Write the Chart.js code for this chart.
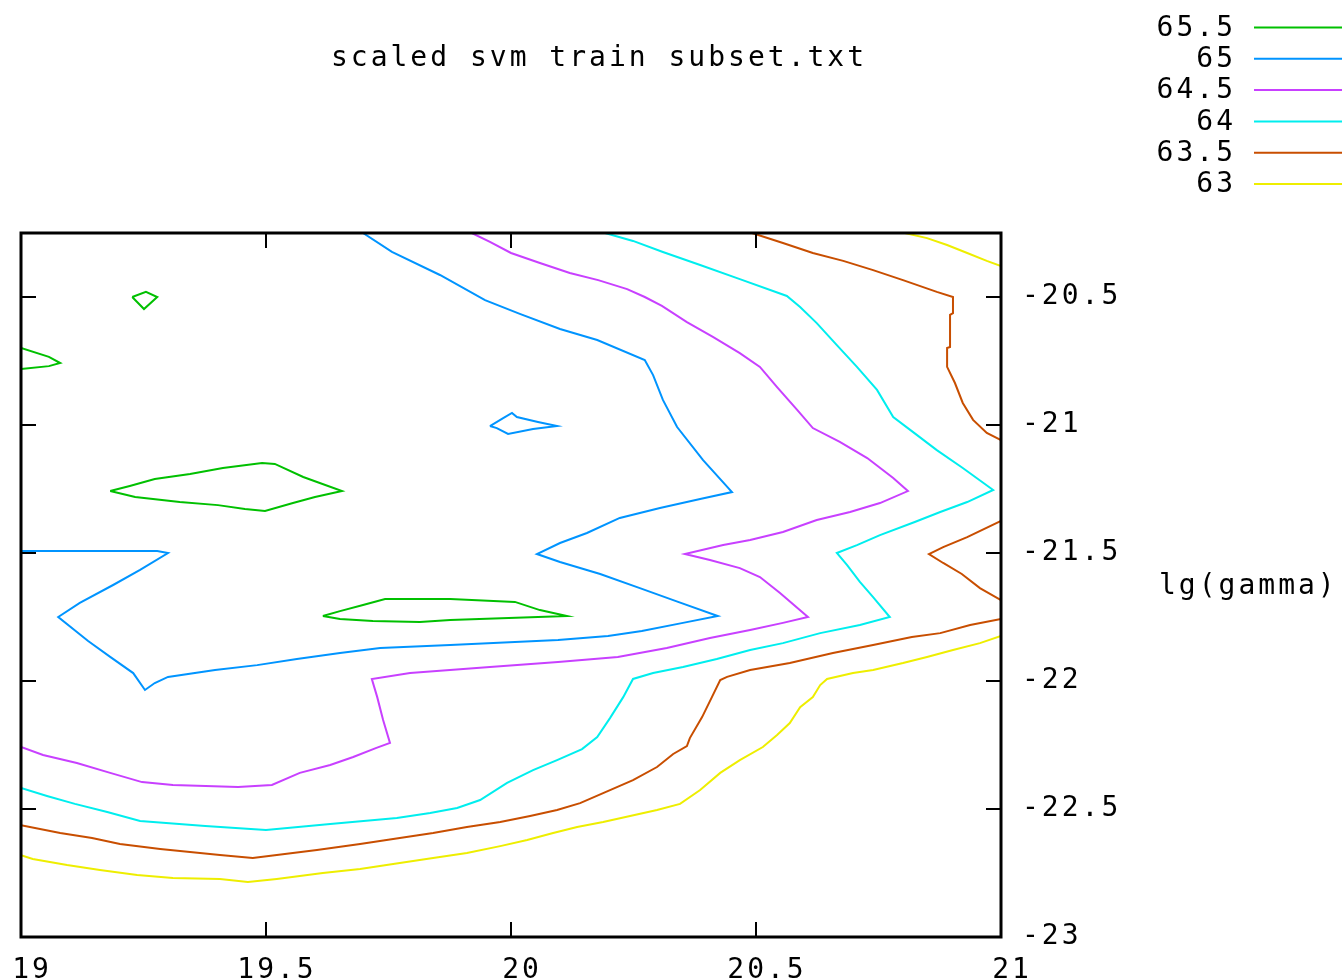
<!DOCTYPE html>
<html>
<head>
<meta charset="utf-8">
<script src="https://cdn.jsdelivr.net/npm/chart.js@4.4.1/dist/chart.umd.min.js"></script>
<style>
  html, body { margin: 0; background: #fff; }
  canvas { display: block; }
</style>
</head>
<body>
<canvas id="contour" width="1342" height="980"></canvas>
<script>
// Contour levels and their line colours
const levels = ['65.5', '65', '64.5', '64', '63.5', '63'];
const levelColors = ['#00c000', '#0094ff', '#c840ff', '#00eeee', '#c84e00', '#eeee00'];

// Tick values
const xTicks = [19, 19.5, 20, 20.5, 21];
const yTicks = [-23, -22.5, -22, -21.5, -21, -20.5];

const titleText = 'scaled svm train subset.txt';
const yLabelText = 'lg(gamma)';

// Contour pieces, [x, y] pairs
const c655a = [[19.227,-20.5],[19.255,-20.48],[19.278,-20.5],[19.251,-20.547],[19.227,-20.5]];
const c655b = [[19,-20.699],[19.057,-20.734],[19.08,-20.758],[19.057,-20.77],[19,-20.781]];
const c655c = [[19.182,-21.258],[19.222,-21.238],[19.273,-21.211],[19.345,-21.191],[19.412,-21.168],[19.492,-21.148],
  [19.518,-21.152],[19.576,-21.203],[19.655,-21.258],[19.6,-21.281],[19.555,-21.305],[19.498,-21.336],[19.457,-21.328],
  [19.402,-21.313],[19.324,-21.301],[19.233,-21.281],[19.182,-21.258]];
const c655d = [[19.616,-21.746],[19.651,-21.727],[19.698,-21.703],[19.743,-21.68],[19.876,-21.68],[20.008,-21.691],
  [20.059,-21.723],[20.114,-21.746],[20.055,-21.75],[19.876,-21.762],[19.814,-21.77],[19.718,-21.766],[19.651,-21.758],
  [19.616,-21.746]];

const c65a = [[19.698,-20.25],[19.757,-20.324],[19.855,-20.414],[19.947,-20.512],[20.018,-20.566],[20.1,-20.625],
  [20.176,-20.668],[20.273,-20.746],[20.29,-20.805],[20.31,-20.902],[20.339,-21.008],[20.392,-21.137],[20.451,-21.262],
  [20.386,-21.289],[20.304,-21.324],[20.222,-21.363],[20.155,-21.422],[20.1,-21.461],[20.053,-21.504],[20.1,-21.535],
  [20.182,-21.582],[20.263,-21.637],[20.341,-21.691],[20.422,-21.746],[20.351,-21.773],[20.267,-21.805],[20.198,-21.824],
  [20.096,-21.84],[19.876,-21.859],[19.733,-21.871],[19.651,-21.891],[19.563,-21.914],[19.482,-21.938],[19.396,-21.957],
  [19.3,-21.984],[19.273,-22.008],[19.253,-22.035],[19.229,-21.969],[19.182,-21.906],[19.137,-21.844],[19.076,-21.75],
  [19.12,-21.695],[19.188,-21.625],[19.243,-21.566],[19.3,-21.5],[19.278,-21.492],[19,-21.492]];
const c65b = [[19.957,-21.004],[19.984,-20.973],[20.002,-20.953],[20.012,-20.969],[20.055,-20.988],[20.094,-21.004],
  [20.045,-21.016],[19.994,-21.035],[19.971,-21.012],[19.957,-21.004]];

const c645a = [[19.92,-20.25],[19.957,-20.285],[20.0,-20.328],[20.059,-20.367],[20.12,-20.406],[20.178,-20.434],
  [20.237,-20.469],[20.273,-20.5],[20.308,-20.535],[20.359,-20.598],[20.412,-20.656],[20.467,-20.719],[20.508,-20.773],
  [20.543,-20.852],[20.584,-20.941],[20.616,-21.012],[20.671,-21.066],[20.727,-21.129],[20.78,-21.207],[20.81,-21.258],
  [20.753,-21.305],[20.692,-21.34],[20.624,-21.371],[20.555,-21.418],[20.488,-21.449],[20.433,-21.469],[20.355,-21.504],
  [20.406,-21.527],[20.467,-21.559],[20.508,-21.594],[20.549,-21.656],[20.606,-21.75],[20.555,-21.773],[20.488,-21.801],
  [20.406,-21.832],[20.318,-21.871],[20.218,-21.906],[20.096,-21.926],[19.957,-21.945],[19.794,-21.969],[19.716,-21.992],
  [19.727,-22.063],[19.739,-22.152],[19.753,-22.242],[19.724,-22.262],[19.678,-22.297],[19.631,-22.328],[19.569,-22.359],
  [19.512,-22.406],[19.443,-22.414],[19.31,-22.406],[19.247,-22.395],[19.182,-22.359],[19.114,-22.32],[19.045,-22.289],
  [19,-22.258]];

const c64a = [[20.192,-20.25],[20.249,-20.281],[20.31,-20.324],[20.386,-20.375],[20.467,-20.43],[20.563,-20.496],
  [20.59,-20.539],[20.624,-20.602],[20.665,-20.688],[20.706,-20.773],[20.747,-20.863],[20.78,-20.969],[20.82,-21.027],
  [20.869,-21.098],[20.922,-21.168],[20.984,-21.254],[20.931,-21.301],[20.876,-21.34],[20.824,-21.379],[20.753,-21.43],
  [20.706,-21.469],[20.665,-21.5],[20.686,-21.547],[20.712,-21.613],[20.739,-21.672],[20.773,-21.75],[20.712,-21.781],
  [20.631,-21.813],[20.555,-21.852],[20.488,-21.879],[20.42,-21.914],[20.351,-21.945],[20.29,-21.969],[20.249,-21.992],
  [20.229,-22.063],[20.202,-22.145],[20.176,-22.219],[20.145,-22.266],[20.094,-22.309],[20.045,-22.348],[19.992,-22.398],
  [19.937,-22.465],[19.89,-22.496],[19.835,-22.516],[19.767,-22.535],[19.631,-22.559],[19.5,-22.582],[19.376,-22.566],
  [19.243,-22.547],[19.176,-22.512],[19.11,-22.48],[19.053,-22.449],[19,-22.418]];

const c635a = [[20.492,-20.25],[20.555,-20.289],[20.616,-20.328],[20.678,-20.359],[20.739,-20.395],[20.8,-20.434],
  [20.869,-20.48],[20.902,-20.5],[20.902,-20.563],[20.896,-20.57],[20.896,-20.695],[20.89,-20.699],[20.89,-20.773],
  [20.906,-20.836],[20.922,-20.914],[20.943,-20.98],[20.971,-21.031],[21,-21.059]];
const c635b = [[21,-21.375],[20.931,-21.438],[20.882,-21.477],[20.853,-21.504],[20.882,-21.539],[20.92,-21.582],
  [20.957,-21.637],[21,-21.684]];
const c635c = [[21,-21.758],[20.937,-21.781],[20.876,-21.813],[20.818,-21.828],[20.739,-21.859],[20.657,-21.891],
  [20.569,-21.93],[20.488,-21.957],[20.441,-21.984],[20.427,-21.996],[20.41,-22.063],[20.39,-22.141],[20.365,-22.223],
  [20.359,-22.254],[20.331,-22.285],[20.298,-22.336],[20.249,-22.387],[20.188,-22.438],[20.141,-22.477],[20.094,-22.504],
  [20.039,-22.527],[19.978,-22.551],[19.91,-22.57],[19.841,-22.594],[19.773,-22.613],[19.692,-22.637],[19.604,-22.66],
  [19.522,-22.68],[19.473,-22.691],[19.406,-22.68],[19.284,-22.656],[19.202,-22.637],[19.145,-22.613],[19.08,-22.594],
  [19,-22.563]];

const c63a = [[20.804,-20.25],[20.849,-20.27],[20.89,-20.297],[20.931,-20.328],[20.971,-20.359],[21,-20.379]];
const c63b = [[21,-21.824],[20.957,-21.852],[20.902,-21.879],[20.849,-21.906],[20.8,-21.93],[20.739,-21.957],
  [20.698,-21.969],[20.645,-21.992],[20.631,-22.016],[20.616,-22.063],[20.59,-22.102],[20.569,-22.164],[20.543,-22.211],
  [20.514,-22.258],[20.467,-22.309],[20.427,-22.359],[20.386,-22.426],[20.345,-22.48],[20.298,-22.504],[20.243,-22.527],
  [20.188,-22.551],[20.135,-22.57],[20.086,-22.594],[20.033,-22.621],[19.978,-22.645],[19.91,-22.672],[19.841,-22.691],
  [19.773,-22.711],[19.692,-22.734],[19.616,-22.75],[19.522,-22.773],[19.463,-22.785],[19.406,-22.773],[19.31,-22.77],
  [19.237,-22.758],[19.161,-22.738],[19.094,-22.719],[19.024,-22.695],[19,-22.68]];

// which level each piece belongs to
const pieces = [
  [0, c655a], [0, c655b], [0, c655c], [0, c655d],
  [1, c65a], [1, c65b],
  [2, c645a],
  [3, c64a],
  [4, c635a], [4, c635b], [4, c635c],
  [5, c63a], [5, c63b]
];

const FONT = '"DejaVu Sans Mono", "Liberation Mono", monospace';

// gnuplot style frame: border, inward ticks, title, key and y label
const gnuplotFrame = {
  id: 'gnuplotFrame',
  beforeLayout(chart) { chart.ctx.letterSpacing = '3px'; },
  beforeDraw(chart) { chart.ctx.letterSpacing = '3px'; },
  afterDraw(chart) {
    const { ctx, chartArea: a, scales } = chart;
    const xs = scales.x, ys = scales.y;
    ctx.save();
    ctx.strokeStyle = '#000';
    ctx.lineWidth = 3;
    ctx.strokeRect(a.left, a.top, a.right - a.left, a.bottom - a.top);

    ctx.lineWidth = 2;
    ctx.beginPath();
    xs.ticks.forEach(t => {
      const px = xs.getPixelForValue(t.value);
      if (px < a.left + 2 || px > a.right - 2) return;
      ctx.moveTo(px, a.top); ctx.lineTo(px, a.top + 15);
      ctx.moveTo(px, a.bottom); ctx.lineTo(px, a.bottom - 15);
    });
    ys.ticks.forEach(t => {
      const py = ys.getPixelForValue(t.value);
      if (py < a.top + 2 || py > a.bottom - 2) return;
      ctx.moveTo(a.left, py); ctx.lineTo(a.left + 15, py);
      ctx.moveTo(a.right, py); ctx.lineTo(a.right - 15, py);
    });
    ctx.stroke();

    ctx.fillStyle = '#000';
    ctx.font = '28px ' + FONT;
    ctx.textBaseline = 'middle';
    ctx.textAlign = 'center';
    ctx.fillText(titleText, 599, 59);

    ctx.textAlign = 'left';
    ctx.fillText(yLabelText, 1159, 587);

    // key, top right
    ctx.textAlign = 'right';
    levels.forEach((lv, i) => {
      const ky = 27.5 + i * 31.3;
      ctx.fillStyle = '#000';
      ctx.fillText(lv, 1236, ky + 1);
      ctx.strokeStyle = levelColors[i];
      ctx.lineWidth = 2;
      ctx.beginPath();
      ctx.moveTo(1254, ky);
      ctx.lineTo(1342, ky);
      ctx.stroke();
    });
    ctx.restore();
  }
};

const datasets = pieces.map(([li, pts]) => ({
  label: levels[li],
  data: pts.map(([x, y]) => ({ x, y })),
  showLine: true,
  borderColor: levelColors[li],
  borderWidth: 2,
  pointRadius: 0,
  fill: false,
  tension: 0
}));

new Chart(document.getElementById('contour'), {
  type: 'scatter',
  data: { datasets },
  options: {
    responsive: false,
    animation: false,
    events: [],
    devicePixelRatio: 1,
    layout: { padding: { left: 21, top: 233, right: 0, bottom: 0 } },
    plugins: { legend: { display: false }, title: { display: false }, tooltip: { enabled: false } },
    scales: {
      x: {
        type: 'linear',
        position: 'bottom',
        min: 19,
        max: 21,
        afterBuildTicks: s => { s.ticks = xTicks.map(v => ({ value: v })); },
        afterFit: s => { s.height = 43; s.paddingLeft = 0; s.paddingRight = 0; },
        grid: { display: false, drawTicks: false },
        border: { display: false },
        ticks: {
          color: '#000',
          font: { family: FONT, size: 28 },
          padding: 17,
          labelOffset: 11,
          maxRotation: 0,
          autoSkip: false,
          callback: v => String(v)
        }
      },
      y: {
        type: 'linear',
        position: 'right',
        min: -23,
        max: -20.25,
        afterBuildTicks: s => { s.ticks = yTicks.map(v => ({ value: v })); },
        afterFit: s => { s.width = 341; s.paddingTop = 0; s.paddingBottom = 0; },
        grid: { display: false, drawTicks: false },
        border: { display: false },
        ticks: {
          color: '#000',
          font: { family: FONT, size: 28 },
          padding: 21,
          autoSkip: false,
          callback: v => String(v)
        }
      }
    }
  },
  plugins: [gnuplotFrame]
});
</script>
</body>
</html>
